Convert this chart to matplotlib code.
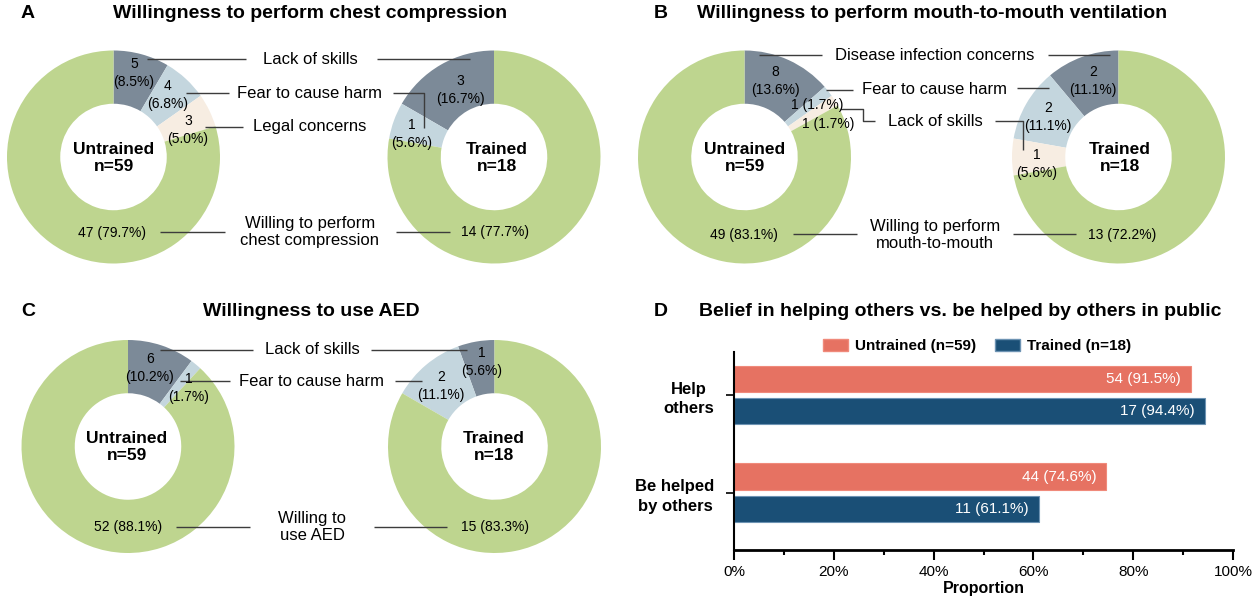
"""Willingness to perform bystander CPR, untrained vs trained respondents."""

import matplotlib.pyplot as plt
import numpy as np
from matplotlib.patches import Patch
from matplotlib.ticker import MultipleLocator, PercentFormatter

W, H = 1259, 606
R = 106.5  # donut outer radius in pixels

plt.rcParams["font.family"] = ["Liberation Sans", "DejaVu Sans"]

DARK = "#7c8a98"
LIGHT = "#c4d6de"
BEIGE = "#f7ede2"
GREEN = "#bed58f"
LINE = "#3c3c3c"
SALMON = "#e67262"
NAVY = "#1a4f76"

# ---- data -------------------------------------------------------------
a_reasons = ["Lack of skills", "Fear to cause harm", "Legal concerns",
             "Willing to perform\nchest compression"]
a_untrained = [5, 4, 3, 47]
a_untrained_pct = ["8.5", "6.8", "5.0", "79.7"]
a_trained = [3, 1, 0, 14]
a_trained_pct = ["16.7", "5.6", None, "77.7"]

b_reasons = ["Disease infection concerns", "Fear to cause harm", "Lack of skills",
             "Willing to perform\nmouth-to-mouth"]
b_untrained = [8, 1, 1, 49]
b_untrained_pct = ["13.6", "1.7", "1.7", "83.1"]
b_trained = [2, 2, 1, 13]
b_trained_pct = ["11.1", "11.1", "5.6", "72.2"]

c_reasons = ["Lack of skills", "Fear to cause harm", "Willing to\nuse AED"]
c_untrained = [6, 1, 52]
c_untrained_pct = ["10.2", "1.7", "88.1"]
c_trained = [1, 2, 15]
c_trained_pct = ["5.6", "11.1", "83.3"]

d_groups = ["Help\nothers", "Be helped\nby others"]
d_series = ["Untrained (n=59)", "Trained (n=18)"]
d_untrained = [54, 44]
d_untrained_pct = [91.5, 74.6]
d_trained = [17, 11]
d_trained_pct = [94.4, 61.1]

# ---- layout (pixel positions, y from the top) ------------------------
panels = [
    dict(letter="A", letter_xy=(28, 14), title="Willingness to perform chest compression",
         title_xy=(310, 14), colors=[DARK, LIGHT, BEIGE, GREEN],
         reasons=a_reasons, mid_x=310, mid_y=[59, 93, 127, 232],
         donuts=[
             dict(counts=a_untrained, pcts=a_untrained_pct, center=(113.5, 157), ccw=False,
                  name="Untrained\nn=59", name_xy=(114, 158),
                  labels=[(134, 73, 1), (168, 95, 1), (188, 130, 1), (112, 233, 0)]),
             dict(counts=a_trained, pcts=a_trained_pct, center=(494, 157), ccw=True,
                  name="Trained\nn=18", name_xy=(497, 158),
                  labels=[(460, 90, 1), (412, 134, 1), None, (495, 232, 0)]),
         ],
         leaders=[
             [(147, 59), (246, 59)], [(377, 59), (470, 59)],
             [(186, 93), (229, 93)], [(393, 93), (424, 93), (424, 128)],
             [(205, 127), (243, 127)],
             [(160, 232), (225, 232)], [(396, 232), (450, 232)],
         ]),
    dict(letter="B", letter_xy=(661, 13), title="Willingness to perform mouth-to-mouth ventilation",
         title_xy=(932, 13), colors=[DARK, LIGHT, BEIGE, GREEN],
         reasons=b_reasons, mid_x=935, mid_y=[56, 89, 122, 235],
         donuts=[
             dict(counts=b_untrained, pcts=b_untrained_pct, center=(744.5, 157), ccw=False,
                  name="Untrained\nn=59", name_xy=(745, 158),
                  labels=[(775, 81, 1), (817, 105, 0), (828, 124, 0), (744, 235, 0)]),
             dict(counts=b_trained, pcts=b_trained_pct, center=(1118.5, 157), ccw=True,
                  name="Trained\nn=18", name_xy=(1120, 158),
                  labels=[(1093, 81, 1), (1048, 117, 1), (1037, 164, 1), (1122, 235, 0)]),
         ],
         leaders=[
             [(759, 55), (822, 55)], [(1048, 55), (1110, 55)],
             [(826, 90), (853, 90)], [(1017, 88), (1049, 88)],
             [(840, 109), (863, 109), (863, 121), (875, 121)],
             [(995, 121), (1023, 121), (1023, 150)],
             [(793, 234), (857, 234)], [(1013, 234), (1076, 234)],
         ]),
    dict(letter="C", letter_xy=(28, 312), title="Willingness to use AED",
         title_xy=(311, 312), colors=[DARK, LIGHT, GREEN],
         reasons=c_reasons, mid_x=312, mid_y=[350, 381, 527],
         donuts=[
             dict(counts=c_untrained, pcts=c_untrained_pct, center=(128, 446.5), ccw=False,
                  name="Untrained\nn=59", name_xy=(127, 447),
                  labels=[(150, 368, 1), (189, 388, 1), (128, 527, 0)]),
             dict(counts=c_trained, pcts=c_trained_pct, center=(494.5, 446.5), ccw=True,
                  name="Trained\nn=18", name_xy=(494, 447),
                  labels=[(482, 362, 1), (441, 386, 1), (495, 527, 0)]),
         ],
         leaders=[
             [(160, 350), (253, 350)], [(371, 350), (467, 350)],
             [(180, 381), (230, 381)], [(395, 381), (422, 381)],
             [(176, 527), (250, 527)], [(374, 527), (447, 527)],
         ]),
]

fig = plt.figure(figsize=(W / 100, H / 100), dpi=100)

# one overlay axes in pixel units for the three donut panels
ax = fig.add_axes([0, 0, 1, 1])


def up(y):
    return H - y


for panel in panels:
    ax.text(panel["letter_xy"][0], up(panel["letter_xy"][1]), panel["letter"],
            fontsize=14, fontweight="bold", ha="center", va="center")
    ax.text(panel["title_xy"][0], up(panel["title_xy"][1]), panel["title"],
            fontsize=14, fontweight="bold", ha="center", va="center")

    for donut in panel["donuts"]:
        cx, cy = donut["center"]
        ax.pie(donut["counts"], colors=panel["colors"], center=(cx, up(cy)), radius=R,
               startangle=90, counterclock=donut["ccw"],
               wedgeprops=dict(width=R * 0.5, linewidth=0))
        for n, p, lab in zip(donut["counts"], donut["pcts"], donut["labels"]):
            if lab is None:
                continue
            sep = "\n" if lab[2] else " "
            ax.text(lab[0], up(lab[1]), f"{n}{sep}({p}%)", fontsize=10,
                    ha="center", va="center", linespacing=1.3, zorder=5)
        ax.text(donut["name_xy"][0], up(donut["name_xy"][1]), donut["name"],
                fontsize=12.5, fontweight="bold", ha="center", va="center", zorder=5)

    for reason, y in zip(panel["reasons"], panel["mid_y"]):
        ax.text(panel["mid_x"], up(y), reason, fontsize=12, ha="center", va="center")

    for pts in panel["leaders"]:
        xs, ys = zip(*pts)
        ax.plot(xs, [up(v) for v in ys], color=LINE, lw=1, zorder=4,
                solid_capstyle="butt")

ax.set_xlim(0, W)
ax.set_ylim(0, H)
ax.axis("off")

# ---- panel D: horizontal bars ------------------------------------------
left, right, top, bottom = 734, 1233, 352, 550
axd = fig.add_axes([left / W, 1 - bottom / H, (right - left) / W, (bottom - top) / H])
axd.patch.set_alpha(0)

y = np.arange(len(d_groups))
off, bh = 0.166, 0.27
axd.barh(y - off, d_untrained_pct, height=bh, color=SALMON, edgecolor="#f08a7b", lw=0.8)
axd.barh(y + off, d_trained_pct, height=bh, color=NAVY, edgecolor="#6d93b3", lw=0.8)
for yy, n, p in zip(y - off, d_untrained, d_untrained_pct):
    axd.text(p - 2, yy, f"{n} ({p}%)", color="white", fontsize=11, ha="right", va="center")
for yy, n, p in zip(y + off, d_trained, d_trained_pct):
    axd.text(p - 2, yy, f"{n} ({p}%)", color="white", fontsize=11, ha="right", va="center")

axd.set_xlim(0, 100)
axd.set_ylim(1.582, -0.439)
axd.set_yticks(y)
axd.set_yticklabels(d_groups, fontsize=12, fontweight="bold", multialignment="center",
                    linespacing=1.35)
axd.xaxis.set_major_locator(MultipleLocator(20))
axd.xaxis.set_minor_locator(MultipleLocator(10))
axd.xaxis.set_major_formatter(PercentFormatter(100, decimals=0))
axd.tick_params(axis="x", which="major", length=7, width=1.5, labelsize=11, pad=4)
axd.tick_params(axis="x", which="minor", length=3.5, width=1.5)
axd.tick_params(axis="y", length=6, width=1.2, pad=8)
axd.set_xlabel("Proportion", fontsize=11.5, fontweight="bold", labelpad=1)
for side in ("top", "right"):
    axd.spines[side].set_visible(False)
axd.spines["left"].set_linewidth(1.5)
axd.spines["bottom"].set_linewidth(2)

handles = [Patch(facecolor=SALMON, edgecolor="#f08a7b"), Patch(facecolor=NAVY, edgecolor="#6d93b3")]
leg = axd.legend(handles, d_series, ncol=2, loc="center", frameon=False,
                 bbox_to_anchor=(977 / W, 1 - 346 / H), bbox_transform=fig.transFigure,
                 prop=dict(size=11, weight="bold"), handlelength=1.64, handleheight=0.85,
                 handletextpad=0.46, columnspacing=1.2, borderpad=0)

axd.text(661, up(312), "D", transform=ax.transData, fontsize=14, fontweight="bold",
         ha="center", va="center")
axd.text(960, up(312), "Belief in helping others vs. be helped by others in public",
         transform=ax.transData, fontsize=14, fontweight="bold", ha="center", va="center")

fig.savefig("out.png", dpi=100)
